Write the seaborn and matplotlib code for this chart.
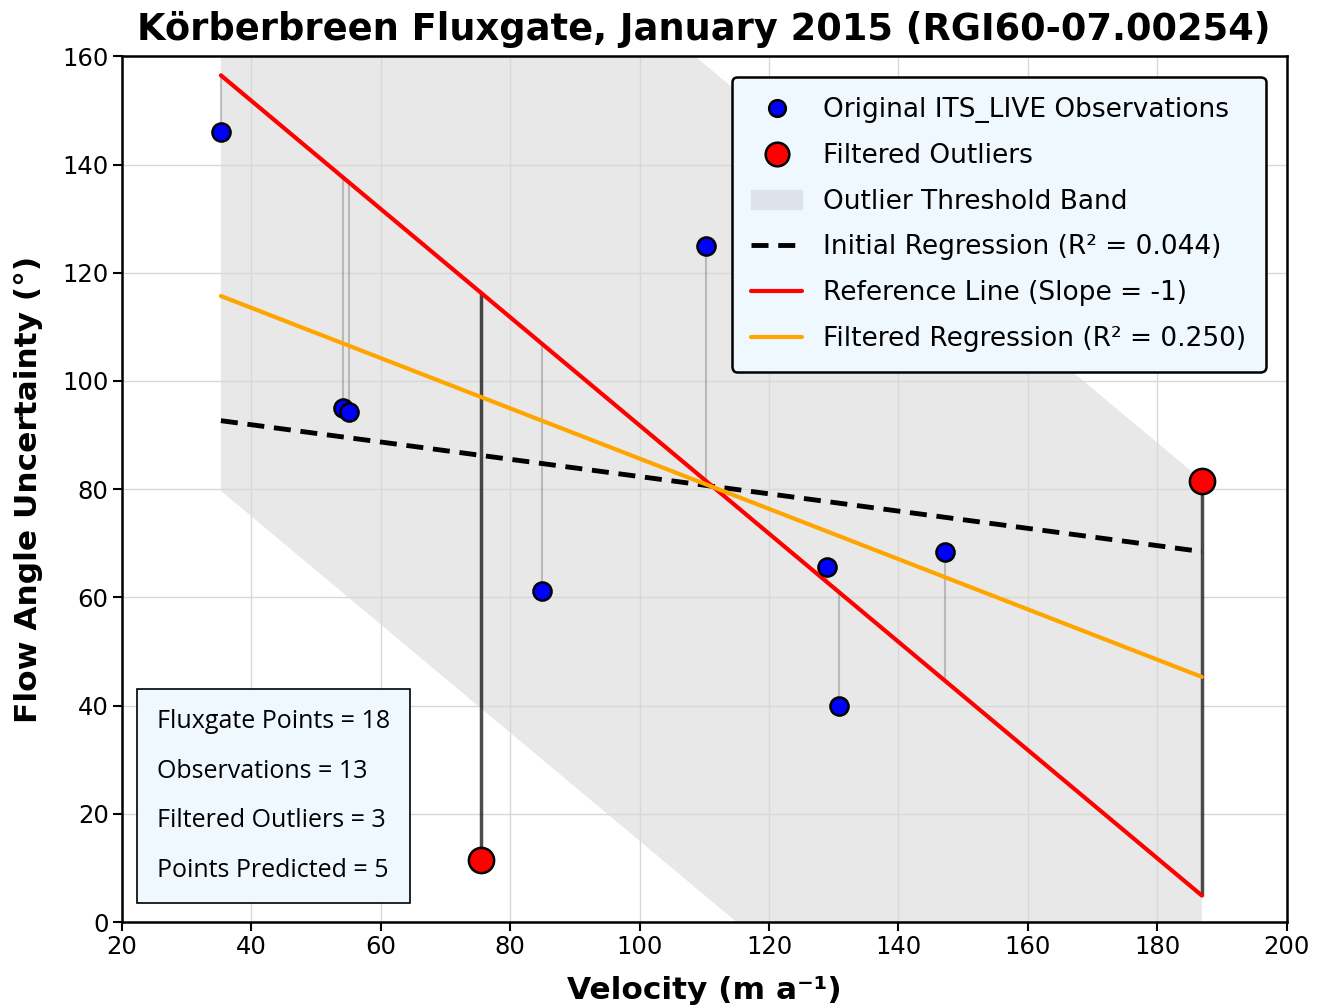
#!/usr/bin/env python3
#
# Fluxgate velocity vs flow angle uncertainty, with outlier band

import numpy as np
import pandas as pd
import matplotlib
matplotlib.use("Agg")
import matplotlib.pyplot as plt
from matplotlib.patches import Patch
from matplotlib.lines import Line2D
import seaborn as sns

# observations kept after filtering
obs_velocity = [35.3, 54.1, 55.1, 84.9, 110.2, 128.9, 130.8, 147.2]
obs_angle = [146.0, 95.1, 94.2, 61.2, 124.9, 65.6, 39.9, 68.4]

# filtered outliers
out_velocity = [75.5, 186.9]
out_angle = [11.5, 81.5]

# reference line (slope -1) and threshold band half width
ref_slope = -1.0
ref_intercept = 191.8
band_halfwidth = 76.8

# regression lines (slope, intercept)
initial_slope, initial_intercept = -0.1596, 98.3
filtered_slope, filtered_intercept = -0.4644, 132.1

stats_labels = ["Fluxgate Points", "Observations", "Filtered Outliers", "Points Predicted"]
stats_values = [18, 13, 3, 5]

sns.set_style("white", rc={"text.color": "black", "axes.labelcolor": "black",
                           "xtick.color": "black", "ytick.color": "black"})
plt.rcParams["font.family"] = ["DejaVu Sans"]

figure, ax = plt.subplots(figsize=(13.25, 10.07), dpi=100)
figure.subplots_adjust(left=0.092, right=0.971, top=0.944, bottom=0.0844)

all_x = np.array(obs_velocity + out_velocity)
xline = np.array([all_x.min(), all_x.max()])
ref_y = ref_intercept + ref_slope * xline

# threshold band
ax.fill_between(xline, ref_y - band_halfwidth, ref_y + band_halfwidth, color="#e8e8e8", zorder=0, lw=0)

ax.grid(True, color="#d8d8d8", lw=1, zorder=0.5)
ax.set_axisbelow(True)

# residual lines to reference
for xv, yv in zip(obs_velocity, obs_angle):
    ax.plot([xv, xv], [yv, ref_intercept + ref_slope * xv], color="gray", alpha=0.45, lw=1.5, zorder=1)
for xv, yv in zip(out_velocity, out_angle):
    ax.plot([xv, xv], [yv, ref_intercept + ref_slope * xv], color="black", alpha=0.7, lw=2.5, zorder=1)

dash = (0, (3.5, 2.0))
lines = pd.DataFrame({
    "x": np.concatenate([xline] * 3),
    "y": np.concatenate([
        initial_intercept + initial_slope * xline,
        ref_y,
        filtered_intercept + filtered_slope * xline,
    ]),
    "kind": ["initial"] * 2 + ["reference"] * 2 + ["filtered"] * 2,
})
sns.lineplot(data=lines[lines.kind == "initial"], x="x", y="y", ax=ax, color="black", lw=3.5, linestyle=dash, zorder=3)
sns.lineplot(data=lines[lines.kind == "reference"], x="x", y="y", ax=ax, color="red", lw=3, zorder=3)
sns.lineplot(data=lines[lines.kind == "filtered"], x="x", y="y", ax=ax, color="orange", lw=3, zorder=3)

sns.scatterplot(x=obs_velocity, y=obs_angle, ax=ax, color="blue", s=170, edgecolor="black", linewidth=1.8, zorder=4)
sns.scatterplot(x=out_velocity, y=out_angle, ax=ax, color="red", s=330, edgecolor="black", linewidth=1.8, zorder=5)

ax.set_xlim(20, 200)
ax.set_ylim(0, 160)
ax.set_xticks(range(20, 201, 20))
ax.set_yticks(range(0, 161, 20))
ax.tick_params(axis="both", labelsize=17.5, direction="out", length=6.5, width=1.5, pad=3,
               bottom=True, left=True)
for spine in ax.spines.values():
    spine.set_linewidth(1.8)
    spine.set_color("black")

ax.set_xlabel("Velocity (m a\u207b\u00b9)", fontsize=22.5, fontweight="bold", labelpad=12)
ax.set_ylabel("Flow Angle Uncertainty (\u00b0)", fontsize=22.5, fontweight="bold", labelpad=14)
ax.set_title("K\u00f6rberbreen Fluxgate, January 2015 (RGI60-07.00254)", fontsize=26.5, fontweight="bold", pad=12)

handles = [
    Line2D([], [], marker="o", ls="", color="blue", markeredgecolor="black", markeredgewidth=1.8, markersize=12),
    Line2D([], [], marker="o", ls="", color="red", markeredgecolor="black", markeredgewidth=1.8, markersize=17),
    Patch(facecolor="#dde3ea", edgecolor="#dde3ea"),
    Line2D([], [], color="black", lw=3.5, linestyle=dash),
    Line2D([], [], color="red", lw=3),
    Line2D([], [], color="orange", lw=3),
]
labels = [
    "Original ITS_LIVE Observations",
    "Filtered Outliers",
    "Outlier Threshold Band",
    f"Initial Regression (R\u00b2 = {0.044:.3f})",
    "Reference Line (Slope = -1)",
    f"Filtered Regression (R\u00b2 = {0.250:.3f})",
]
leg = ax.legend(handles, labels, loc="upper right", fontsize=19, frameon=True, fancybox=True,
                facecolor="aliceblue", edgecolor="black", framealpha=1, labelspacing=0.75,
                borderpad=0.75, handlelength=1.9, handletextpad=0.8, borderaxespad=0,
                bbox_to_anchor=(0.982, 0.976))
leg.get_frame().set_linewidth(1.8)

stats_text = "\n".join(f"{k} = {v}" for k, v in zip(stats_labels, stats_values))
ax.text(0.030, 0.045, stats_text, transform=ax.transAxes, fontsize=18, family=["Open Sans", "DejaVu Sans"],
        linespacing=2.3, va="bottom", ha="left", zorder=6,
        bbox=dict(boxstyle="square,pad=0.8", facecolor="aliceblue", edgecolor="black", lw=1.2))

figure.savefig("out.png", dpi=100)
plt.close(figure)
